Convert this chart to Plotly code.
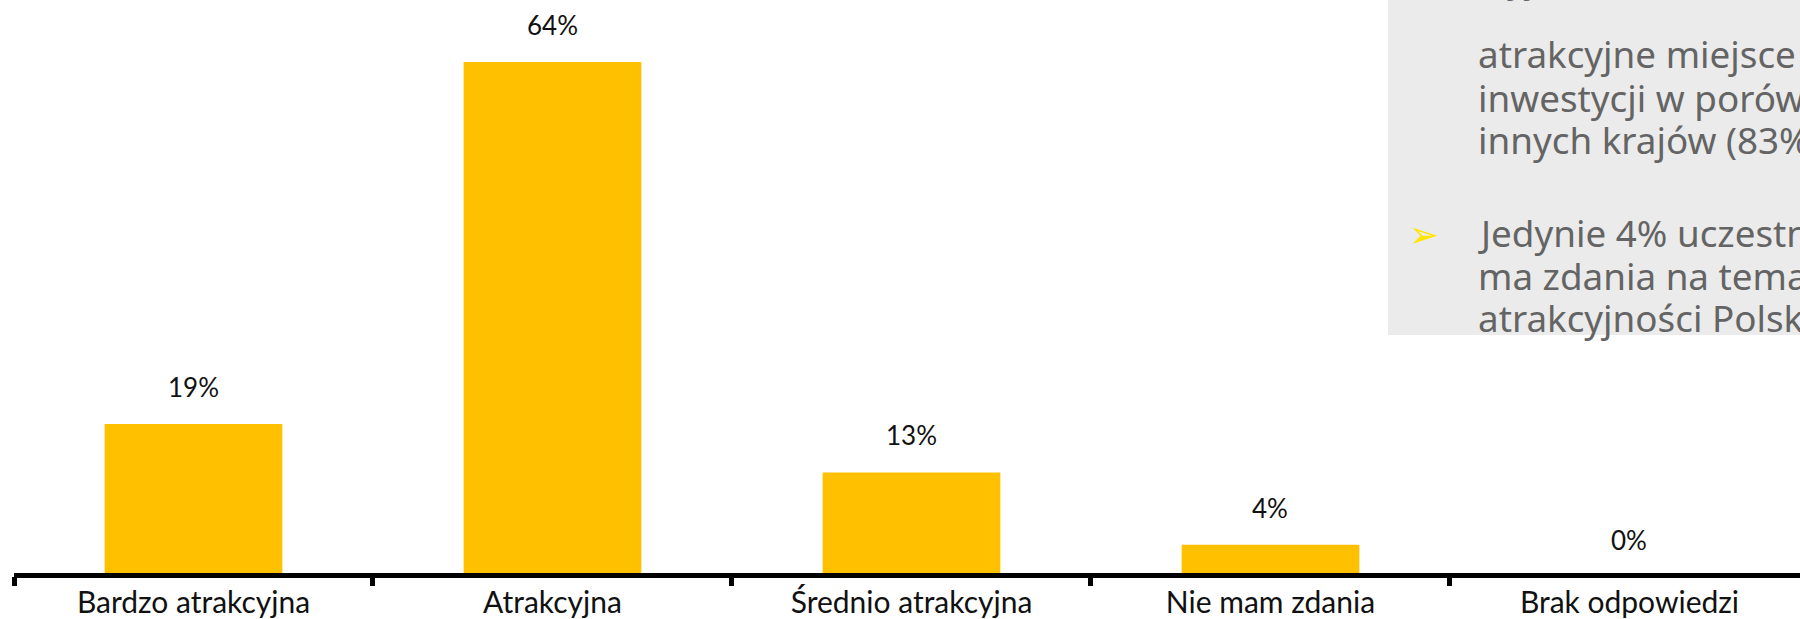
import plotly.graph_objects as go

# ---- data ----
categories = ["Bardzo atrakcyjna", "Atrakcyjna", "Średnio atrakcyjna", "Nie mam zdania", "Brak odpowiedzi"]
values = [19, 64, 13, 4, 0]
value_labels = ["19%", "64%", "13%", "4%", "0%"]

box_top_line = "wyjątkowo lub"
box_par1 = ["atrakcyjne miejsce do", "inwestycji w porównaniu do", "innych krajów (83%)"]
box_par2 = ["Jedynie 4% uczestników nie", "ma zdania na temat", "atrakcyjności Polski"]

# ---- geometry helpers (pixel -> paper) ----
W, H = 1800, 619
ML, MR, MT, MB = 14, 0, 0, 42
PW, PH = W - ML - MR, H - MT - MB
PLOT_BOTTOM = MT + PH  # pixel row of value 0


def px_x(x):
    return (x - ML) / PW


def px_y(y):
    return (PLOT_BOTTOM - y) / PH


BAR_COLOR = "#FFC000"
TEXT_GREY = "#646464"
BOX_GREY = "#EBEBEB"

fig = go.Figure()
fig.add_trace(go.Bar(
    x=categories, y=values, width=0.495,
    marker=dict(color=BAR_COLOR, line=dict(width=0)),
    hoverinfo="skip", showlegend=False,
))

annotations = []
# value labels above bars
for c, v, lab in zip(categories, values, value_labels):
    annotations.append(dict(
        x=c, y=v, xref="x", yref="y", text=lab, showarrow=False,
        xanchor="center", yanchor="bottom", yshift=20, borderpad=0,
        font=dict(family="Lato", size=26, color="#111111"),
    ))

# grey note box
fig.add_shape(type="rect", xref="paper", yref="paper",
              x0=px_x(1388), x1=px_x(1900), y0=px_y(335), y1=px_y(-20),
              fillcolor=BOX_GREY, line=dict(width=0), layer="below")

FS = 36.8
desc = 0.293 * FS
text_x = 1477
box_rows = [(box_top_line, -6.5)]
box_rows += list(zip(box_par1, [69.6, 113.2, 155.7]))
box_rows += list(zip(box_par2, [248.7, 291.2, 333.6]))
for txt, bl in box_rows:
    annotations.append(dict(
        x=px_x(text_x), y=px_y(bl + desc), xref="paper", yref="paper",
        text=txt, showarrow=False, xanchor="left", yanchor="bottom", borderpad=0,
        font=dict(family="Noto Sans", size=FS, color=TEXT_GREY),
    ))

# bullet arrow
annotations.append(dict(
    x=px_x(1424), y=px_y(234), xref="paper", yref="paper", text="➢",
    showarrow=False, xanchor="center", yanchor="middle", borderpad=0,
    font=dict(family="DejaVu Sans", size=36, color="#FFE600"),
))

y_scale = 8.047  # px per percent
y_max = PH / y_scale
axis_line_px = 574.7  # thick axis line sits slightly above value 0

fig.update_layout(
    width=W, height=H,
    margin=dict(l=ML, r=MR, t=MT, b=MB, pad=0, autoexpand=False),
    paper_bgcolor="white", plot_bgcolor="white",
    bargap=0.5,
    annotations=annotations,
    xaxis=dict(
        type="category", range=[-0.5, 4.475], automargin=False,
        anchor="free", position=px_y(axis_line_px),
        showline=True, linecolor="black", linewidth=4.5,
        ticks="outside", tickson="boundaries", ticklen=9, tickwidth=4.5, tickcolor="black",
        tickfont=dict(family="Lato", size=30, color="#111111"),
        showgrid=False, zeroline=False, fixedrange=True,
    ),
    yaxis=dict(range=[0, y_max], visible=False, showgrid=False, zeroline=False, fixedrange=True),
)

fig.write_html("out.html")
